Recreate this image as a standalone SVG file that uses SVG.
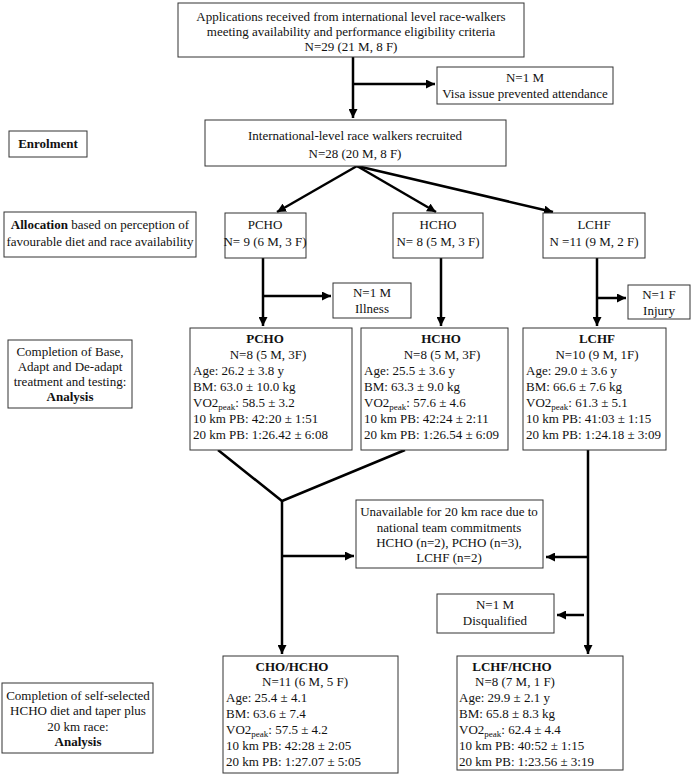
<svg xmlns="http://www.w3.org/2000/svg" width="700" height="778" viewBox="0 0 700 778">
<style>
text{font-family:"Liberation Serif","Times New Roman",serif;font-size:13px;fill:#111}
.c{text-anchor:middle}
.b{font-weight:bold}
.box{fill:#fff;stroke:#333;stroke-width:1}
.ln{fill:none;stroke:#000;stroke-width:2.5}
.sub{font-size:9px}
</style>
<defs>
<marker id="ah" viewBox="0 0 10 10" refX="10" refY="5" markerWidth="9" markerHeight="9" markerUnits="userSpaceOnUse" orient="auto">
<path d="M0,0 L10,5 L0,10 z" fill="#000"/>
</marker>
</defs>
<rect width="700" height="778" fill="#fff"/>

<g id="connectors">
<path class="ln" d="M353,57 V118" marker-end="url(#ah)"/>
<path class="ln" d="M353,84 H435" marker-end="url(#ah)"/>
<path class="ln" d="M357,166 L277,212" marker-end="url(#ah)"/>
<path class="ln" d="M357,166 L436,212" marker-end="url(#ah)"/>
<path class="ln" d="M357,166 L553,212" marker-end="url(#ah)"/>
<path class="ln" d="M263,258 V326" marker-end="url(#ah)"/>
<path class="ln" d="M263,296 H331" marker-end="url(#ah)"/>
<path class="ln" d="M441,258 V326" marker-end="url(#ah)"/>
<path class="ln" d="M597,258 V326" marker-end="url(#ah)"/>
<path class="ln" d="M597,298 H626" marker-end="url(#ah)"/>
<path class="ln" d="M218,450 L282,501 L405,450"/>
<path class="ln" d="M282,501 V654" marker-end="url(#ah)"/>
<path class="ln" d="M282,556 H354" marker-end="url(#ah)"/>
<path class="ln" d="M588,450 V654" marker-end="url(#ah)"/>
<path class="ln" d="M588,557 H546" marker-end="url(#ah)"/>
<path class="ln" d="M584,615 H557" marker-end="url(#ah)"/>
</g>

<g id="applications">
<rect class="box" x="178" y="3" width="346" height="54"/>
<text class="c" x="351" y="21">Applications received from international level race-walkers</text>
<text class="c" x="351" y="36">meeting availability and performance eligibility criteria</text>
<text class="c" x="351" y="51">N=29 (21 M, 8 F)</text>
</g>

<g id="visa">
<rect class="box" x="437" y="67" width="176" height="37"/>
<text class="c" x="525" y="82">N=1 M</text>
<text class="c" x="525" y="98">Visa issue prevented attendance</text>
</g>

<g id="enrolment-label">
<rect class="box" x="9" y="131" width="78" height="26"/>
<text class="c b" x="48" y="148">Enrolment</text>
</g>

<g id="recruited">
<rect class="box" x="205" y="120" width="301" height="46"/>
<text class="c" x="355" y="140">International-level race walkers recruited</text>
<text class="c" x="355" y="158">N=28 (20 M, 8 F)</text>
</g>

<g id="allocation-label">
<rect class="box" x="4" y="212" width="192" height="45"/>
<text class="c" x="100" y="229"><tspan class="b">Allocation</tspan> based on perception of</text>
<text class="c" x="100" y="246">favourable diet and race availability</text>
</g>

<g id="pcho-alloc">
<rect class="box" x="225" y="213" width="81" height="45"/>
<text class="c" x="265" y="229">PCHO</text>
<text class="c" x="265" y="246">N= 9 (6 M, 3 F)</text>
</g>

<g id="hcho-alloc">
<rect class="box" x="393" y="213" width="90" height="45"/>
<text class="c" x="438" y="229">HCHO</text>
<text class="c" x="438" y="246">N= 8 (5 M, 3 F)</text>
</g>

<g id="lchf-alloc">
<rect class="box" x="543" y="213" width="102" height="45"/>
<text class="c" x="594" y="229">LCHF</text>
<text class="c" x="594" y="246">N =11 (9 M, 2 F)</text>
</g>

<g id="illness">
<rect class="box" x="333" y="283" width="78" height="35"/>
<text class="c" x="372" y="297">N=1 M</text>
<text class="c" x="372" y="313">Illness</text>
</g>

<g id="injury">
<rect class="box" x="628" y="285" width="62" height="34"/>
<text class="c" x="659" y="299">N=1 F</text>
<text class="c" x="659" y="315">Injury</text>
</g>

<g id="completion-label">
<rect class="box" x="8" y="340" width="124" height="68"/>
<text class="c" x="70" y="356">Completion of Base,</text>
<text class="c" x="70" y="371">Adapt and De-adapt</text>
<text class="c" x="70" y="386">treatment and testing:</text>
<text class="c b" x="70" y="401">Analysis</text>
</g>

<g id="pcho-detail">
<rect class="box" x="190" y="328" width="162" height="122"/>
<text class="c b" x="265" y="343">PCHO</text>
<text class="c" x="268" y="359">N=8 (5 M, 3F)</text>
<text x="193" y="375">Age: 26.2 ± 3.8 y</text>
<text x="193" y="391">BM: 63.0 ± 10.0 kg</text>
<text x="193" y="407">VO2<tspan class="sub" dy="3">peak</tspan><tspan dy="-3">: 58.5 ± 3.2</tspan></text>
<text x="193" y="423">10 km PB: 42:20 ± 1:51</text>
<text x="193" y="439">20 km PB: 1:26.42 ± 6:08</text>
</g>

<g id="hcho-detail">
<rect class="box" x="361" y="328" width="147" height="122"/>
<text class="c b" x="441" y="343">HCHO</text>
<text class="c" x="442" y="359">N=8 (5 M, 3F)</text>
<text x="364" y="375">Age: 25.5 ± 3.6 y</text>
<text x="364" y="391">BM: 63.3 ± 9.0 kg</text>
<text x="364" y="407">VO2<tspan class="sub" dy="3">peak</tspan><tspan dy="-3">: 57.6 ± 4.6</tspan></text>
<text x="364" y="423">10 km PB: 42:24 ± 2:11</text>
<text x="364" y="439">20 km PB: 1:26.54 ± 6:09</text>
</g>

<g id="lchf-detail">
<rect class="box" x="523" y="328" width="143" height="122"/>
<text class="c b" x="597" y="343">LCHF</text>
<text class="c" x="597" y="359">N=10 (9 M, 1F)</text>
<text x="526" y="375">Age: 29.0 ± 3.6 y</text>
<text x="526" y="391">BM: 66.6 ± 7.6 kg</text>
<text x="526" y="407">VO2<tspan class="sub" dy="3">peak</tspan><tspan dy="-3">: 61.3 ± 5.1</tspan></text>
<text x="526" y="423">10 km PB: 41:03 ± 1:15</text>
<text x="526" y="439">20 km PB: 1:24.18 ± 3:09</text>
</g>

<g id="unavailable">
<rect class="box" x="356" y="500" width="187" height="68"/>
<text class="c" x="449" y="516">Unavailable for 20 km race due to</text>
<text class="c" x="449" y="532">national team commitments</text>
<text class="c" x="449" y="547">HCHO (n=2), PCHO (n=3),</text>
<text class="c" x="449" y="562">LCHF (n=2)</text>
</g>

<g id="disqualified">
<rect class="box" x="437" y="594" width="117" height="39"/>
<text class="c" x="495" y="609">N=1 M</text>
<text class="c" x="495" y="625">Disqualified</text>
</g>

<g id="final-label">
<rect class="box" x="2" y="683" width="151" height="70"/>
<text class="c" x="78" y="700">Completion of self-selected</text>
<text class="c" x="78" y="715">HCHO diet and taper plus</text>
<text class="c" x="78" y="731">20 km race:</text>
<text class="c b" x="78" y="746">Analysis</text>
</g>

<g id="cho-hcho">
<rect class="box" x="223" y="656" width="175" height="117"/>
<text class="c b" x="292" y="671">CHO/HCHO</text>
<text class="c" x="305" y="686">N=11 (6 M, 5 F)</text>
<text x="226" y="702">Age: 25.4 ± 4.1</text>
<text x="226" y="718">BM: 63.6 ± 7.4</text>
<text x="226" y="734">VO2<tspan class="sub" dy="3">peak</tspan><tspan dy="-3">: 57.5 ± 4.2</tspan></text>
<text x="226" y="750">10 km PB: 42:28 ± 2:05</text>
<text x="226" y="766">20 km PB: 1:27.07 ± 5:05</text>
</g>

<g id="lchf-hcho">
<rect class="box" x="457" y="656" width="166" height="114"/>
<text class="c b" x="512" y="671">LCHF/HCHO</text>
<text class="c" x="515" y="686">N=8 (7 M, 1 F)</text>
<text x="459" y="702">Age: 29.9 ± 2.1 y</text>
<text x="459" y="718">BM: 65.8 ± 8.3 kg</text>
<text x="459" y="734">VO2<tspan class="sub" dy="3">peak</tspan><tspan dy="-3">: 62.4 ± 4.4</tspan></text>
<text x="459" y="750">10 km PB: 40:52 ± 1:15</text>
<text x="459" y="766">20 km PB: 1:23.56 ± 3:19</text>
</g>
</svg>
